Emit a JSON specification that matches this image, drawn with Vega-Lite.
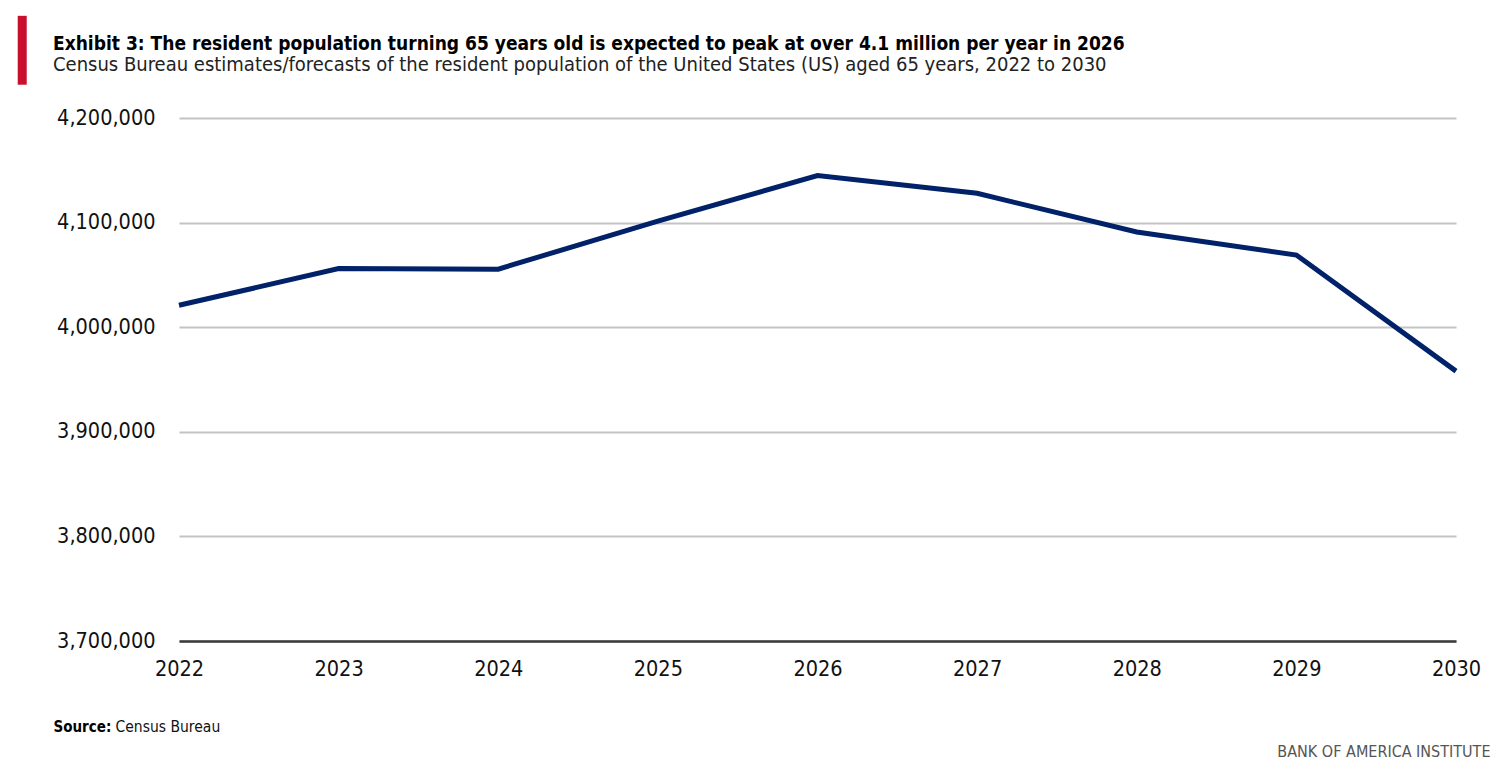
{
  "$schema": "https://vega.github.io/schema/vega-lite/v6.json",
  "width": 1277,
  "height": 523,
  "autosize": {"type": "none"},
  "padding": {"left": 179, "top": 118, "right": 54, "bottom": 131},
  "background": "white",
  "config": {
    "view": {"stroke": null},
    "font": "DejaVu Sans Condensed, sans-serif"
  },
  "title": {
    "text": "Exhibit 3: The resident population turning 65 years old is expected to peak at over 4.1 million per year in 2026",
    "subtitle": "Census Bureau estimates/forecasts of the resident population of the United States (US) aged 65 years, 2022 to 2030",
    "anchor": "start",
    "frame": "group",
    "dx": -126,
    "offset": -52,
    "font": "DejaVu Sans Condensed, sans-serif",
    "fontSize": 19,
    "fontWeight": "bold",
    "color": "#000000",
    "subtitleFont": "DejaVu Sans Condensed, sans-serif",
    "subtitleFontSize": 20,
    "subtitleColor": "#222222",
    "subtitlePadding": 1
  },
  "data": {
    "values": [
      {"year": 2022, "population": 4021000},
      {"year": 2023, "population": 4056000},
      {"year": 2024, "population": 4055500},
      {"year": 2025, "population": 4101500},
      {"year": 2026, "population": 4145000},
      {"year": 2027, "population": 4128000},
      {"year": 2028, "population": 4091000},
      {"year": 2029, "population": 4069000},
      {"year": 2030, "population": 3958000}
    ]
  },
  "layer": [
    {
      "mark": {"type": "line", "color": "#012169", "strokeWidth": 5, "strokeCap": "butt"},
      "encoding": {
        "x": {
          "field": "year",
          "type": "quantitative",
          "scale": {"domain": [2022, 2030], "nice": false, "zero": false},
          "axis": {
            "values": [2022, 2023, 2024, 2025, 2026, 2027, 2028, 2029, 2030],
            "format": "d",
            "grid": false,
            "ticks": false,
            "domain": true,
            "domainColor": "#3a3a3a",
            "domainWidth": 2.5,
            "labelFontSize": 21.5,
            "labelColor": "#111111",
            "labelPadding": 17,
            "labelFlush": false,
            "title": "Census Bureau",
            "titleFontSize": 15.5,
            "titleFontWeight": "normal",
            "titleColor": "#111111",
            "titleAlign": "left",
            "titleBaseline": "alphabetic",
            "titleX": -64,
            "titleY": 90
          }
        },
        "y": {
          "field": "population",
          "type": "quantitative",
          "scale": {"domain": [3700000, 4200000], "nice": false, "zero": false},
          "axis": {
            "values": [3700000, 3800000, 3900000, 4000000, 4100000, 4200000],
            "format": ",d",
            "grid": true,
            "gridColor": "#c4c4c4",
            "gridWidth": 2,
            "ticks": false,
            "domain": false,
            "labelFontSize": 21.5,
            "labelColor": "#111111",
            "labelPadding": 24,
            "title": "Source:",
            "titleFontSize": 15,
            "titleFontWeight": "bold",
            "titleColor": "#000000",
            "titleAngle": 0,
            "titleAlign": "left",
            "titleBaseline": "alphabetic",
            "titleX": -126,
            "titleY": 613
          }
        }
      }
    },
    {
      "mark": {"type": "line", "opacity": 0},
      "encoding": {
        "x": {
          "field": "year",
          "type": "quantitative",
          "axis": {
            "orient": "top",
            "labels": false,
            "ticks": false,
            "domain": false,
            "grid": false,
            "title": "▎",
            "titleFont": "DejaVu Sans Mono",
            "titleFontSize": 58,
            "titleFontWeight": "normal",
            "titleColor": "#c8102e",
            "titleAngle": 0,
            "titleAlign": "left",
            "titleBaseline": "top",
            "titleX": -161,
            "titleY": -95
          }
        },
        "y": {
          "field": "population",
          "type": "quantitative",
          "axis": {
            "orient": "right",
            "labels": false,
            "ticks": false,
            "domain": false,
            "grid": false,
            "title": "BANK OF AMERICA INSTITUTE",
            "titleFontSize": 16,
            "titleFontWeight": "normal",
            "titleColor": "#555555",
            "titleAngle": 0,
            "titleAlign": "right",
            "titleBaseline": "alphabetic",
            "titleX": 34,
            "titleY": 638
          }
        }
      }
    }
  ],
  "resolve": {"axis": {"x": "independent", "y": "independent"}}
}
